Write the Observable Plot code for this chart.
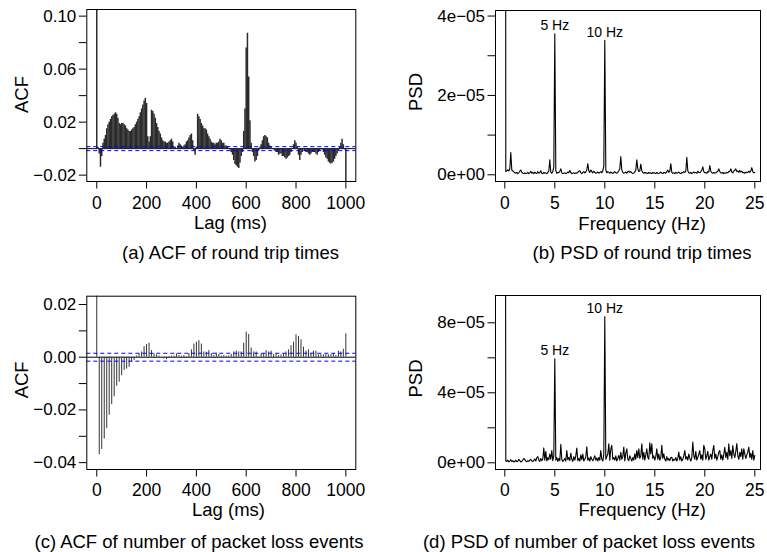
<!DOCTYPE html>
<html><head><meta charset="utf-8">
<script src="https://cdn.jsdelivr.net/npm/d3@7"></script>
<script src="https://cdn.jsdelivr.net/npm/@observablehq/plot@0.6"></script>
<style>
body{margin:0;background:#fff;}
#wrap{position:relative;width:767px;height:552px;background:#fff;overflow:hidden;}
#wrap svg{position:absolute;}
</style></head><body><div id="wrap"></div>
<script>
// ---------- DATA ----------
// (a) ACF of round trip times, lag step 5 ms, lags 0..1000
const rttLagStep = 5;
const acfRtt = [
  1, 0.001, -0.004, -0.014, -0.006, 0.004, 0.007, 0.010, 0.015, 0.018,
  0.020, 0.022, 0.024, 0.025, 0.026, 0.027, 0.026, 0.023, 0.019, 0.018,
  0.019, 0.019, 0.018, 0.017, 0.015, 0.014, 0.013, 0.013, 0.014, 0.015,
  0.016, 0.018, 0.020, 0.022, 0.024, 0.027, 0.030, 0.033, 0.036, 0.038,
  0.034, 0.009, 0.005, 0.009, 0.029, 0.028, 0.026, 0.023, 0.019, 0.016,
  0.013, 0.011, 0.008, 0.006, 0.005, 0.005, 0.004, 0.004, 0.005, 0.006,
  0.007, 0.005, 0.001, 0.001, 0.000, 0.002, 0.004, 0.003, 0.002, 0.001,
  0.002, 0.003, 0.005, 0.006, 0.008, 0.010, 0.011, 0.006, -0.002, -0.005,
  0.001, 0.026, 0.024, 0.022, 0.019, 0.017, 0.015, 0.015, 0.014, 0.011,
  0.009, 0.007, 0.005, 0.004, 0.004, 0.003, 0.004, 0.004, 0.005, 0.007,
  0.006, 0.004, 0.004, 0.002, 0.002, 0.001, 0.000, -0.001, -0.003, -0.005,
  -0.009, -0.012, -0.013, -0.014, -0.015, -0.011, -0.006, -0.003, 0.013, 0.030,
  0.076, 0.087, 0.054, 0.021, 0.004, -0.003, -0.006, -0.010, -0.009, -0.006,
  -0.002, 0.001, 0.003, 0.006, 0.009, 0.010, 0.009, 0.008, 0.004, 0.002,
  0.001, 0.000, -0.001, -0.002, -0.003, -0.003, -0.005, -0.004, -0.004, -0.006,
  -0.006, -0.007, -0.008, -0.007, -0.006, -0.005, -0.003, 0.000, 0.003, 0.006,
  0.004, 0.001, -0.005, -0.009, -0.005, -0.003, -0.001, -0.002, -0.003, -0.003,
  -0.004, -0.005, -0.004, -0.003, -0.003, -0.003, -0.004, -0.005, -0.003, -0.002,
  0.000, -0.001, -0.003, -0.005, -0.007, -0.008, -0.010, -0.011, -0.0115, -0.011,
  -0.010, -0.008, -0.006, -0.004, -0.002, 0.001, 0.004, 0.007, 0.003, -0.001,
  -0.04
];
// (c) ACF of number of packet loss events, lag step 10 ms
const lossLagStep = 10;
const acfLoss = [
  1,
  -0.037, -0.035, -0.031, -0.027, -0.022, -0.018, -0.015, -0.011, -0.0095,
  -0.007, -0.005, -0.0045, -0.0038, -0.002, -0.0012, 0.0005, 0.0013, 0.002, 0.004,
  0.0048, 0.0053, 0.0025, 0.0013, 0.0009, 0.0005, 0.0000, -0.0006, -0.0009, 0.0003,
  0.0004, 0.0005, 0.0013, 0.0006, 0.0004, 0.0006, -0.0003, 0.0013, 0.0028, 0.005,
  0.0057, 0.0063, 0.005, 0.002, 0.0019, 0.0025, 0.0013, 0.0006, 0.0015, 0.001,
  0.0005, 0.0006, 0.0004, 0.0005, 0.001, 0.002, 0.0023, 0.002, 0.002, 0.0053,
  0.0095, 0.0086, 0.0035, 0.002, 0.002, -0.0002, 0.0013, 0.0013, 0.0025, 0.002,
  0.0023, 0.001, 0.0013, 0.0006, 0.0009, 0.0013, 0.002, 0.0028, 0.0044, 0.0057,
  0.0085, 0.0078, 0.0066, 0.0038, 0.0023, 0.0028, 0.0015, 0.0023, 0.0023, 0.0009,
  0.001, 0.0009, 0.001, 0.0009, 0.001, 0.0013, 0.0006, 0.0023, 0.002, 0.003,
  0.0089
];
const ciBounds = [0.0015, -0.0015];

// PSDs, frequency step 0.1 Hz (0..25), values in units of 1e-6
const freqStep = 0.1;
const psdUnit = 1e-6;
const psdRtt = [
  400, 0.8, 1.0, 1.2, 1.0, 1.5, 5.6, 1.2, 1.0, 0.7,
  0.5, 0.4, 0.6, 0.3, 0.5, 0.9, 1.2, 0.6, 0.4, 0.3,
  0.5, 0.3, 0.4, 0.6, 0.3, 0.5, 0.9, 0.4, 0.6, 0.3,
  0.7, 0.4, 0.3, 0.8, 0.4, 0.5, 1.0, 0.4, 0.3, 0.6,
  0.4, 0.5, 0.3, 0.6, 0.9, 3.8, 0.6, 0.4, 0.8, 2.0,
  35.5, 1.0, 0.4, 0.6, 0.5, 0.9, 1.5, 0.5, 0.3, 0.4,
  0.5, 0.3, 0.4, 0.7, 0.5, 1.1, 0.6, 0.3, 0.4, 0.5,
  0.3, 0.5, 0.4, 0.6, 0.9, 1.0, 0.5, 0.3, 0.6, 0.8,
  0.5, 0.7, 1.2, 2.8, 1.0, 0.6, 1.2, 0.8, 0.5, 0.9,
  0.6, 0.4, 0.5, 0.7, 0.4, 0.6, 0.8, 0.5, 1.0, 2.2,
  33.9, 1.2, 0.5, 0.8, 0.6, 0.4, 0.7, 0.5, 0.3, 0.6,
  0.8, 0.5, 0.4, 0.6, 1.0, 1.5, 4.6, 1.2, 0.6, 0.4,
  0.5, 0.7, 0.4, 0.8, 0.9, 0.6, 0.8, 0.5, 0.3, 0.5,
  0.7, 1.2, 3.8, 1.5, 0.8, 1.0, 2.7, 1.0, 0.6, 0.4,
  0.6, 0.4, 0.5, 0.3, 0.6, 0.4, 0.5, 0.3, 0.6, 0.4,
  0.5, 0.3, 0.6, 0.4, 0.3, 0.5, 0.7, 0.4, 0.3, 0.6,
  0.5, 0.4, 0.8, 1.2, 0.6, 0.9, 2.8, 0.6, 0.4, 0.5,
  0.3, 0.6, 0.4, 0.5, 0.7, 0.4, 0.3, 0.6, 0.5, 0.8,
  0.6, 0.9, 4.4, 1.0, 0.5, 0.4, 0.6, 0.3, 0.5, 0.7,
  0.5, 0.6, 0.4, 0.9, 0.6, 0.5, 0.8, 1.2, 2.0, 0.8,
  0.5, 0.6, 0.4, 0.8, 0.7, 2.3, 0.9, 0.5, 0.4, 0.6,
  0.4, 0.5, 0.7, 0.9, 1.5, 0.8, 0.5, 0.4, 0.6, 0.3,
  0.5, 0.4, 0.6, 0.5, 0.8, 0.9, 1.5, 0.7, 0.5, 0.9,
  1.2, 1.5, 0.8, 1.0, 0.6, 1.1, 0.7, 0.9, 0.5, 0.6,
  0.4, 0.7, 0.5, 0.6, 0.9, 0.6, 1.0, 1.8, 0.8, 0.5,
  0.6
];
const psdLoss = [
  500, 1.0, 0.8, 1.5, 0.6, 0.9, 1.8, 0.7, 1.2, 0.5,
  0.8, 1.5, 0.6, 0.9, 2.0, 1.2, 0.5, 0.8, 1.6, 2.5,
  1.8, 0.9, 0.6, 1.2, 0.8, 1.5, 2.0, 1.0, 0.7, 1.4,
  2.2, 1.0, 3.0, 3.5, 1.5, 0.8, 2.5, 1.2, 2.0, 8.5,
  1.5, 6.5, 1.0, 3.0, 1.8, 5.0, 2.0, 7.0, 1.2, 4.0,
  59.4, 1.5, 3.0, 0.8, 2.5, 1.2, 10.5, 2.0, 0.8, 1.5,
  2.5, 1.0, 7.0, 1.8, 3.0, 1.2, 5.5, 2.0, 0.8, 3.5,
  1.5, 4.0, 8.4, 1.2, 2.5, 1.0, 4.5, 1.8, 5.0, 1.0,
  2.0, 3.5, 9.2, 1.5, 2.8, 1.0, 3.5, 2.0, 1.2, 2.5,
  4.0, 1.5, 2.8, 1.0, 3.0, 1.5, 7.0, 2.0, 1.0, 5.0,
  83.6, 2.0, 3.5, 5.0, 10.8, 1.5, 8.0, 10.0, 2.0, 3.0,
  1.5, 4.0, 1.0, 2.5, 4.2, 1.5, 6.0, 2.0, 3.5, 9.0,
  1.0, 5.5, 8.0, 2.0, 1.2, 4.0, 2.5, 1.0, 3.0, 1.5,
  5.1, 2.0, 7.0, 3.0, 8.0, 2.5, 4.0, 10.8, 2.0, 6.0,
  1.5, 4.5, 8.0, 3.0, 2.0, 11.4, 5.0, 10.8, 2.5, 4.0,
  1.5, 3.5, 8.0, 2.0, 5.0, 1.5, 3.0, 10.0, 2.5, 5.1,
  2.0, 1.0, 3.5, 1.5, 2.5, 1.2, 3.0, 3.2, 1.0, 2.0,
  1.5, 3.0, 1.0, 2.5, 6.1, 1.5, 3.5, 1.0, 2.0, 4.0,
  7.0, 2.0, 3.5, 1.5, 5.0, 2.5, 1.0, 3.0, 11.8, 4.0,
  2.0, 6.5, 1.5, 3.0, 5.0, 7.0, 2.0, 4.5, 1.5, 10.0,
  8.0, 2.0, 4.0, 6.5, 1.5, 3.5, 5.0, 2.0, 7.0, 9.9,
  2.5, 5.0, 1.5, 3.5, 6.0, 7.0, 2.0, 4.5, 1.5, 5.0,
  8.9, 3.0, 6.0, 2.0, 10.8, 4.0, 7.0, 2.5, 9.9, 5.0,
  3.0, 6.5, 11.0, 4.0, 2.0, 6.0, 3.5, 8.0, 2.0, 8.0,
  5.0, 2.5, 4.5, 6.1, 9.0, 3.0, 5.5, 2.0, 7.0, 1.5,
  4.2
];
const peakFreqs = [5, 10];
const peakLabels = ["5 Hz", "10 Hz"];

// tick values and labels
const lagTicks = [0, 200, 400, 600, 800, 1000];
const lagTickLabels = ["0", "200", "400", "600", "800", "1000"];
const freqTicks = [0, 5, 10, 15, 20, 25];
const freqTickLabels = ["0", "5", "10", "15", "20", "25"];
const acfRttTicks = [-0.02, 0, 0.02, 0.04, 0.06, 0.08, 0.10];
const acfRttTickLabels = ["\u22120.02", "", "0.02", "", "0.06", "", "0.10"];
const acfLossTicks = [-0.04, -0.03, -0.02, -0.01, 0, 0.01, 0.02];
const acfLossTickLabels = ["\u22120.04", "", "\u22120.02", "", "0.00", "", "0.02"];
const psdRttTicks = [0, 1e-5, 2e-5, 3e-5, 4e-5];
const psdRttTickLabels = ["0e+00", "", "2e\u221205", "", "4e\u221205"];
const psdLossTicks = [0, 2e-5, 4e-5, 6e-5, 8e-5];
const psdLossTickLabels = ["0e+00", "", "4e\u221205", "", "8e\u221205"];

const titles = {
  a: {x: "Lag (ms)", y: "ACF", cap: "(a) ACF of round trip times"},
  b: {x: "Frequency (Hz)", y: "PSD", cap: "(b) PSD of round trip times"},
  c: {x: "Lag (ms)", y: "ACF", cap: "(c) ACF of number of packet loss events"},
  d: {x: "Frequency (Hz)", y: "PSD", cap: "(d) PSD of number of packet loss events"}
};

// ---------- BUILD ----------
const FONT = '"Liberation Sans", Arial, Helvetica, sans-serif';
const wrap = document.getElementById("wrap");

const acfA = acfRtt.map((v, i) => ({lag: i * rttLagStep, acf: v}));
const acfC = acfLoss.map((v, i) => ({lag: i * lossLagStep, acf: v}));
const psdB = psdRtt.map((v, i) => ({f: Math.round(i * freqStep * 10) / 10, psd: v * psdUnit}));
const psdD = psdLoss.map((v, i) => ({f: Math.round(i * freqStep * 10) / 10, psd: v * psdUnit}));
const annot = (rows) => peakFreqs.map((f, i) => ({f, psd: rows.find(r => r.f === f).psd, label: peakLabels[i]}));

function lab(ticks, labels) { const m = new Map(ticks.map((t, i) => [t, labels[i]])); return d => m.get(d) ?? ""; }

function panel(p) {
  const svg = Plot.plot({
    width: p.width, height: p.height,
    marginLeft: p.ml, marginRight: p.mr, marginTop: p.mt, marginBottom: p.mb,
    x: {domain: p.xDomain},
    y: {domain: p.yDomain},
    style: {fontFamily: FONT, fontSize: "17px", color: "black", background: "transparent", overflow: "visible"},
    marks: [
      ...p.marks,
      Plot.frame({stroke: "black", strokeWidth: 1}),
      Plot.axisX({anchor: "bottom", ticks: p.xTicks, tickFormat: lab(p.xTicks, p.xLabels), tickSize: 7.5, tickPadding: p.xPad, label: null, fontSize: 17.5}),
      Plot.axisY({anchor: "left", ticks: p.yTicks, tickFormat: lab(p.yTicks, p.yLabels), tickSize: 7.5, tickPadding: 3, label: null, fontSize: 17}),
      Plot.text([p.t.x], {text: d => d, frameAnchor: "bottom", lineAnchor: "middle", textAnchor: "middle", dx: p.xtDx, dy: p.xtDy, fontSize: 18.5, fill: "black"}),
      Plot.text([p.t.cap], {text: d => d, frameAnchor: "bottom", lineAnchor: "middle", textAnchor: "middle", dx: p.capDx, dy: p.capDy, fontSize: 18.5, fill: "black"}),
      Plot.text([p.t.y], {text: d => d, frameAnchor: "left", lineAnchor: "middle", textAnchor: "middle", rotate: -90, dx: p.ytDx, dy: p.ytDy, fontSize: 18.5, fill: "black"})
    ]
  });
  svg.style.left = p.left + "px";
  svg.style.top = p.top + "px";
  wrap.appendChild(svg);
}

function acfMarks(data, color, width) {
  return [
    Plot.ruleY([0], {stroke: "black", strokeWidth: 1}),
    Plot.ruleX(data, {x: "lag", y1: 0, y2: "acf", stroke: color, strokeWidth: width, clip: true}),
    Plot.ruleY(ciBounds, {stroke: "#0000ff", strokeWidth: 1, strokeDasharray: "4,3"})
  ];
}
function psdMarks(data) {
  return [
    Plot.line(data, {x: "f", y: "psd", stroke: "black", strokeWidth: 1.1, clip: true}),
    Plot.text(annot(data), {x: "f", y: "psd", text: "label", dy: -8, fontSize: 14, fill: "black"})
  ];
}

// (a)
panel({left: 0, top: 0, width: 383, height: 276, ml: 86.3, mr: 27.7, mt: 9, mb: 95,
  xDomain: [-40, 1040], yDomain: [-0.0248, 0.105],
  xTicks: lagTicks, xLabels: lagTickLabels, yTicks: acfRttTicks, yLabels: acfRttTickLabels, xPad: 8,
  marks: acfMarks(acfA, "#2b2b2b", 1.5), t: titles.a,
  xtDx: 9.2, xtDy: 42, capDx: 9.2, capDy: 72, ytDx: -64.6, ytDy: -1});
// (b)
panel({left: 383, top: 0, width: 384, height: 276, ml: 112, mr: 7, mt: 10, mb: 95,
  xDomain: [-0.93, 25.57], yDomain: [-1.69e-6, 41.4e-6],
  xTicks: freqTicks, xLabels: freqTickLabels, yTicks: psdRttTicks, yLabels: psdRttTickLabels, xPad: 8,
  marks: psdMarks(psdB), t: titles.b,
  xtDx: 14.1, xtDy: 42.5, capDx: 14, capDy: 72, ytDx: -79.3, ytDy: -4});
// (c)
panel({left: 0, top: 276, width: 383, height: 276, ml: 86.3, mr: 27.7, mt: 19.7, mb: 83,
  xDomain: [-40, 1040], yDomain: [-0.0426, 0.02315],
  xTicks: lagTicks, xLabels: lagTickLabels, yTicks: acfLossTicks, yLabels: acfLossTickLabels, xPad: 6.5,
  marks: acfMarks(acfC, "#333", 1), t: titles.c,
  xtDx: 7.2, xtDy: 41, capDx: -22.3, capDy: 73, ytDx: -64.6, ytDy: -3});
// (d)
panel({left: 383, top: 276, width: 384, height: 276, ml: 112, mr: 7, mt: 19, mb: 83,
  xDomain: [-0.93, 25.57], yDomain: [-3.83e-6, 95.6e-6],
  xTicks: freqTicks, xLabels: freqTickLabels, yTicks: psdLossTicks, yLabels: psdLossTickLabels, xPad: 6.5,
  marks: psdMarks(psdD), t: titles.d,
  xtDx: 14.2, xtDy: 41, capDx: -39, capDy: 72.7, ytDx: -79.3, ytDy: -4});
</script></body></html>
